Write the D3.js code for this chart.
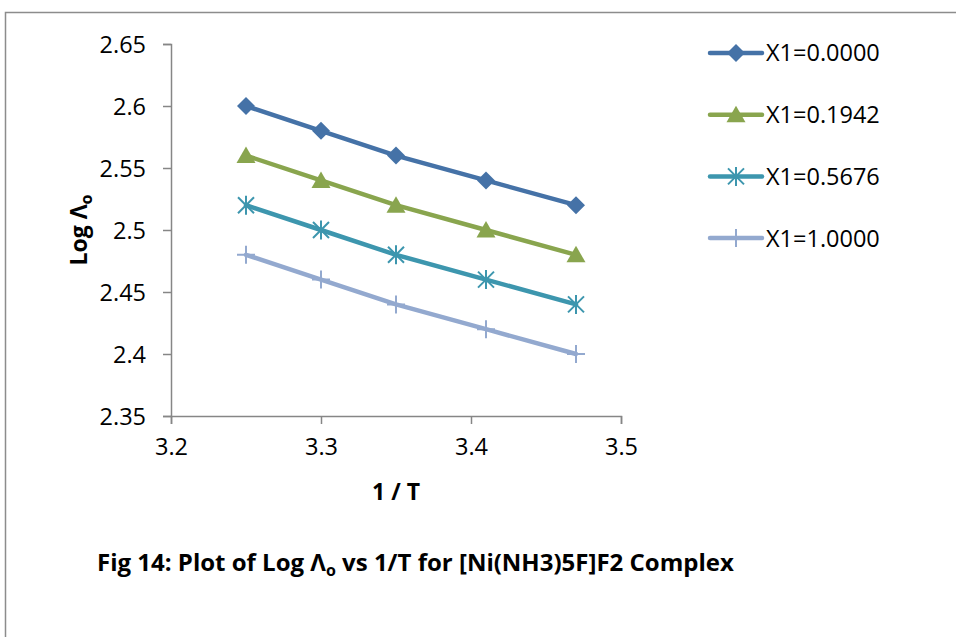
<!DOCTYPE html>
<html>
<head>
<meta charset="utf-8">
<script src="https://cdn.jsdelivr.net/npm/d3@7"></script>
<style>
  html, body { margin: 0; padding: 0; background: #fff; }
  svg { display: block; font-family: "Open Sans", sans-serif; }
</style>
</head>
<body>
<svg width="956" height="637"></svg>
<script>
// 1/T values and Log conductance for each mole fraction
var inv_t = [3.25, 3.30, 3.35, 3.41, 3.47];
var series_names = ["X1=0.0000", "X1=0.1942", "X1=0.5676", "X1=1.0000"];
var log_x1_0000 = [2.60, 2.58, 2.56, 2.54, 2.52];
var log_x1_1942 = [2.56, 2.54, 2.52, 2.50, 2.48];
var log_x1_5676 = [2.52, 2.50, 2.48, 2.46, 2.44];
var log_x1_10000 = [2.48, 2.46, 2.44, 2.42, 2.40];
var x_ticks = [3.2, 3.3, 3.4, 3.5];
var y_ticks = [2.35, 2.4, 2.45, 2.5, 2.55, 2.6, 2.65];

var colors = ["#4572a7", "#89a54e", "#3d96ae", "#93a9cf"];
var markers = ["diamond", "triangle", "star", "plus"];
var all_series = [log_x1_0000, log_x1_1942, log_x1_5676, log_x1_10000];

var svg = d3.select("svg"),
    width = +svg.attr("width"),
    height = +svg.attr("height");

// outer chart border (only left and top edges visible)
svg.append("rect")
    .attr("x", 5.5).attr("y", 12.5)
    .attr("width", 1000).attr("height", 700)
    .attr("fill", "none")
    .attr("stroke", "#8c8c8c")
    .attr("stroke-width", 1.5);

var x = d3.scaleLinear().domain([3.2, 3.5]).range([171, 621]);
var y = d3.scaleLinear().domain([2.35, 2.65]).range([416, 44]);

var axis_color = "#868686";

var xAxis = svg.append("g")
    .attr("transform", "translate(0,416)")
    .call(d3.axisBottom(x).tickValues(x_ticks).tickSize(8).tickPadding(14)
        .tickFormat(d3.format("")));
var yAxis = svg.append("g")
    .attr("transform", "translate(171,0)")
    .call(d3.axisLeft(y).tickValues(y_ticks).tickSize(8).tickPadding(17)
        .tickFormat(function(d) { return +d.toFixed(2) + ""; }));

[xAxis, yAxis].forEach(function(g) {
  g.select(".domain").attr("stroke", axis_color).attr("stroke-width", 1.5);
  g.selectAll(".tick line").attr("stroke", axis_color).attr("stroke-width", 1.5);
  g.selectAll(".tick text")
      .attr("fill", "#000")
      .style("font-size", "23.5px")
      .style("font-family", "Open Sans, sans-serif");
});
yAxis.selectAll(".tick text").attr("dy", "0.36em");

// axis titles
svg.append("text")
    .attr("x", 396).attr("y", 500)
    .attr("text-anchor", "middle")
    .style("font-size", "23px").style("font-weight", "bold")
    .text("1 / T");

var ylab = svg.append("text")
    .attr("transform", "translate(87,230) rotate(-90)")
    .attr("text-anchor", "middle")
    .style("font-size", "23px").style("font-weight", "bold");
ylab.append("tspan").text("Log Λ");
ylab.append("tspan").attr("dy", 5).style("font-size", "16px").text("o");

function draw_marker(g, kind, color) {
  if (kind === "diamond") {
    g.append("path").attr("d", "M0,-9L9,0L0,9L-9,0Z").attr("fill", color);
  } else if (kind === "triangle") {
    g.append("path").attr("d", "M0,-9L9.5,7.5L-9.5,7.5Z").attr("fill", color);
  } else if (kind === "star") {
    g.append("path")
        .attr("d", "M-8,-8L8,8M-8,8L8,-8M0,-9.5L0,9.5")
        .attr("stroke", color).attr("stroke-width", 2).attr("fill", "none");
  } else {
    g.append("path")
        .attr("d", "M0,-9L0,9M-9,0L9,0")
        .attr("stroke", color).attr("stroke-width", 2).attr("fill", "none");
  }
}

var line = d3.line()
    .x(function(d, i) { return x(inv_t[i]); })
    .y(function(d) { return y(d); });

all_series.forEach(function(vals, s) {
  var g = svg.append("g").attr("class", "series");
  g.append("path")
      .datum(vals)
      .attr("d", line)
      .attr("fill", "none")
      .attr("stroke", colors[s])
      .attr("stroke-width", 4.5)
      .attr("stroke-linejoin", "round")
      .attr("stroke-linecap", "round");
  vals.forEach(function(v, i) {
    var m = g.append("g").attr("transform", "translate(" + x(inv_t[i]) + "," + y(v) + ")");
    draw_marker(m, markers[s], colors[s]);
  });
});

// legend
var legend = svg.append("g");
series_names.forEach(function(name, s) {
  var ly = 53 + s * 61.7;
  var row = legend.append("g");
  row.append("line")
      .attr("x1", 710).attr("x2", 762)
      .attr("y1", ly).attr("y2", ly)
      .attr("stroke", colors[s]).attr("stroke-width", 4.5)
      .attr("stroke-linecap", "round");
  var m = row.append("g").attr("transform", "translate(736," + ly + ")");
  draw_marker(m, markers[s], colors[s]);
  row.append("text")
      .attr("x", 766).attr("y", ly).attr("dy", "0.36em")
      .style("font-size", "23.5px")
      .text(name);
});

// figure caption
var cap = svg.append("text")
    .attr("x", 97).attr("y", 571)
    .style("font-size", "24px").style("font-weight", "bold");
cap.append("tspan").text("Fig 14: Plot of Log Λ");
cap.append("tspan").attr("dy", 5).style("font-size", "16px").text("o");
cap.append("tspan").attr("dy", -5).text(" vs 1/T for [Ni(NH3)5F]F2 Complex");
</script>
</body>
</html>
